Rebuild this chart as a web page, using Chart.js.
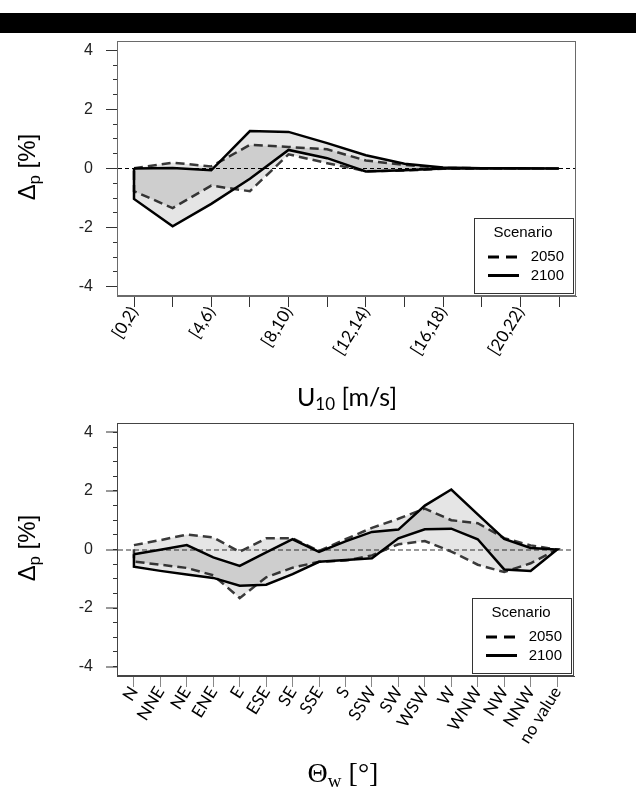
<!DOCTYPE html>
<html>
<head>
<meta charset="utf-8">
<script src="https://cdn.jsdelivr.net/npm/chart.js@4.4.0/dist/chart.umd.min.js"></script>
<style>
  html, body { margin: 0; padding: 0; background: #fff; }
  body { width: 636px; height: 787px; position: relative; overflow: hidden; }
  .bar { position: absolute; left: 0; top: 13px; width: 636px; height: 20px; background: #000; }
  canvas { position: absolute; left: 0; }
  #c1 { top: 34px; }
  #c2 { top: 410px; }
  .title { position: absolute; white-space: nowrap; line-height: 1; color: #000; }
  .title sub { font-size: 68%; vertical-align: -0.28em; line-height: 0; }
  .ytitle { font-family: "Liberation Sans", Arial, sans-serif; font-size: 24px; transform: translate(-50%, -50%) rotate(-90deg); }
  .xtitle { font-family: Lato, "Open Sans", sans-serif; font-size: 25px; transform: translate(-50%, -50%); }
  .serif { font-family: "Liberation Serif", "DejaVu Serif", serif; font-size: 28px; }
</style>
</head>
<body>
<div class="bar"></div>
<canvas id="c1" width="636" height="376"></canvas>
<canvas id="c2" width="636" height="377"></canvas>
<div class="title ytitle" style="left:27px; top:167px">Δ<sub>p</sub> [%]</div>
<div class="title xtitle" style="left:347px; top:396px">U<sub>10</sub> [m/s]</div>
<div class="title ytitle" style="left:27px; top:548px">Δ<sub>p</sub> [%]</div>
<div class="title xtitle serif" style="left:343px; top:773px">Θ<sub>w</sub> [°]</div>
<script>
// wind speed classes (upper panel)
const speedBins = ['[0,2)', '[2,4)', '[4,6)', '[6,8)', '[8,10)', '[10,12)', '[12,14)', '[14,16)', '[16,18)', '[18,20)', '[20,22)', '[22,24)'];
const speed2050Upper = [0.01, 0.20, 0.07, 0.80, 0.73, 0.65, 0.27, 0.12, 0.02, 0.01, 0.00, 0.00];
const speed2050Lower = [-0.77, -1.34, -0.58, -0.77, 0.48, 0.18, -0.09, -0.07, -0.01, 0.00, 0.00, 0.00];
const speed2100Upper = [0.00, 0.02, -0.06, 1.27, 1.24, 0.86, 0.45, 0.16, 0.03, 0.01, 0.01, 0.00];
const speed2100Lower = [-1.03, -1.96, -1.20, -0.35, 0.63, 0.35, -0.10, -0.06, 0.00, 0.00, 0.00, 0.00];

// wind direction classes (lower panel)
const dirBins = ['N', 'NNE', 'NE', 'ENE', 'E', 'ESE', 'SE', 'SSE', 'S', 'SSW', 'SW', 'WSW', 'W', 'WNW', 'NW', 'NNW', 'no value'];
const dir2050Upper = [0.15, 0.32, 0.51, 0.41, -0.08, 0.38, 0.38, -0.05, 0.35, 0.74, 1.05, 1.40, 1.00, 0.90, 0.39, 0.14, 0.00];
const dir2050Lower = [-0.41, -0.52, -0.63, -0.88, -1.66, -0.95, -0.62, -0.42, -0.38, -0.20, 0.18, 0.29, -0.07, -0.52, -0.77, -0.47, 0.00];
const dir2100Upper = [-0.16, -0.01, 0.15, -0.27, -0.56, -0.10, 0.35, -0.08, 0.28, 0.60, 0.68, 1.50, 2.05, 1.20, 0.36, 0.05, 0.00];
const dir2100Lower = [-0.59, -0.73, -0.85, -0.97, -1.24, -1.20, -0.84, -0.42, -0.36, -0.30, 0.38, 0.69, 0.71, 0.35, -0.68, -0.73, 0.00];

const scenarios = ['2050', '2100'];
const yMajor = [-4, -2, 0, 2, 4];
const yMinor = [-4, -3.5, -3, -2.5, -2, -1.5, -1, -0.5, 0, 0.5, 1, 1.5, 2, 2.5, 3, 3.5, 4];
const yLimit = 4.32;

// band outline: upper bound left to right, lower bound back, closed
function band(upper, lower) {
  const pts = upper.map((y, i) => ({x: i, y: y}));
  for (let i = lower.length - 1; i >= 0; i--) pts.push({x: i, y: lower[i]});
  pts.push({x: 0, y: upper[0]});
  return pts;
}

const framePlugin = {
  id: 'frame',
  afterDraw(chart, args, o) {
    const {ctx, chartArea: a} = chart;
    ctx.save();
    ctx.strokeStyle = o.color;
    ctx.lineWidth = 1;
    ctx.strokeRect(Math.round(a.left) + 0.5, Math.round(a.top) + 0.5, Math.round(a.width) - 1, Math.round(a.height) - 1);
    ctx.restore();
  }
};

const boxLegend = {
  id: 'boxLegend',
  afterDraw(chart, args, o) {
    const {ctx, chartArea: a} = chart;
    const x = Math.round(a.right) - 102, y = Math.round(a.bottom) - 78, w = 99, h = 75;
    ctx.save();
    ctx.fillStyle = '#fff';
    ctx.fillRect(x, y, w, h);
    ctx.strokeStyle = '#333';
    ctx.lineWidth = 1;
    ctx.strokeRect(x + 0.5, y + 0.5, w, h);
    ctx.fillStyle = '#000';
    ctx.font = '15px "Liberation Sans", Arial, sans-serif';
    ctx.textBaseline = 'middle';
    ctx.textAlign = 'center';
    ctx.fillText(o.title, x + 49, y + 15);
    ctx.textAlign = 'right';
    chart.data.datasets.slice().sort((p, q) => p.label.localeCompare(q.label)).forEach((ds, i) => {
      const ly = y + 39 + i * 18.5;
      ctx.beginPath();
      ctx.setLineDash(ds.borderDash.length ? [11, 7] : []);
      ctx.strokeStyle = '#000';
      ctx.lineWidth = 3;
      ctx.moveTo(x + 14, ly);
      ctx.lineTo(x + 45, ly);
      ctx.stroke();
      ctx.fillText(ds.label, x + 90, ly);
    });
    ctx.restore();
  }
};

function drawPanel(id, cats, bands, opt) {
  const pad = (cats.length - 1) * 0.04;
  return new Chart(document.getElementById(id), {
    type: 'line',
    data: {
      datasets: bands.map((b, i) => ({
        label: scenarios[i],
        data: band(b[0], b[1]),
        order: i === 0 ? 2 : 1,
        borderColor: i === 0 ? '#3a3a3a' : '#000',
        borderWidth: 2.5,
        borderDash: i === 0 ? [9, 5] : [],
        backgroundColor: 'rgba(0,0,0,0.1)',
        fill: 'shape',
        pointRadius: 0,
        tension: 0
      }))
    },
    options: {
      responsive: false,
      animation: false,
      events: [],
      layout: {padding: {left: 0, top: opt.top, right: opt.right, bottom: 0}},
      plugins: {
        legend: {display: false},
        tooltip: {enabled: false},
        frame: {color: opt.frame},
        boxLegend: {title: 'Scenario'}
      },
      scales: {
        x: {
          type: 'linear',
          min: -pad,
          max: cats.length - 1 + pad,
          afterBuildTicks: ax => { ax.ticks = cats.map((c, i) => ({value: i})); },
          afterFit: ax => { ax.height = opt.xHeight; ax.paddingLeft = 0; ax.paddingRight = 0; },
          grid: {drawOnChartArea: false, tickLength: 11, color: opt.tick},
          border: {color: opt.frame},
          ticks: {
            autoSkip: false,
            maxRotation: 58,
            minRotation: 58,
            padding: -4,
            color: '#000',
            font: {family: 'Lato', size: 17},
            callback: v => (opt.every && v % opt.every !== 0) ? '' : cats[v]
          }
        },
        y: {
          position: 'left',
          weight: 1,
          min: -yLimit,
          max: yLimit,
          afterBuildTicks: ax => { ax.ticks = yMajor.map(v => ({value: v})); },
          afterFit: ax => { ax.width = 117; ax.paddingTop = 0; ax.paddingBottom = 0; },
          grid: {
            tickLength: 11,
            tickColor: '#333',
            tickWidth: 1,
            color: c => c.tick && c.tick.value === 0 ? opt.zero : 'rgba(0,0,0,0)',
            lineWidth: opt.zeroWidth
          },
          border: {color: opt.frame, dash: opt.zeroDash},
          ticks: {padding: 13, color: '#222', font: {family: '"Liberation Sans", Arial, sans-serif', size: 16}}
        },
        yMinor: {
          position: 'left',
          weight: 0,
          min: -yLimit,
          max: yLimit,
          afterBuildTicks: ax => { ax.ticks = yMinor.map(v => ({value: v})); },
          afterFit: ax => { ax.width = 0; ax.paddingTop = 0; ax.paddingBottom = 0; },
          grid: {drawOnChartArea: false, tickLength: 4, color: '#333'},
          border: {display: false},
          ticks: {display: false}
        }
      }
    },
    plugins: [framePlugin, boxLegend]
  });
}

drawPanel('c1', speedBins, [[speed2050Upper, speed2050Lower], [speed2100Upper, speed2100Lower]], {
  top: 7, right: 60, xHeight: 114, every: 2,
  frame: '#6a6a6a', tick: '#333', zero: '#000', zeroWidth: 1, zeroDash: [4, 3]
});

drawPanel('c2', dirBins, [[dir2050Upper, dir2050Lower], [dir2100Upper, dir2100Lower]], {
  top: 13, right: 62, xHeight: 111, every: 0,
  frame: '#444', tick: '#888', zero: '#999', zeroWidth: 2, zeroDash: [5, 3]
});
</script>
</body>
</html>
